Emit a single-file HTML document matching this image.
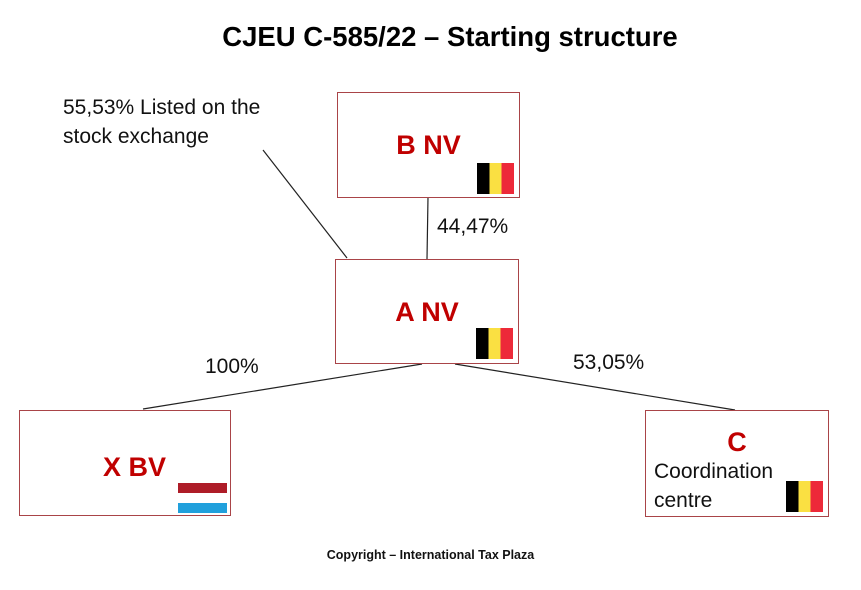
<!DOCTYPE html>
<html><head><style>
body{margin:0;width:861px;height:590px;background:#fff;position:relative;font-family:"Liberation Sans",sans-serif;overflow:hidden}
.t{position:absolute;white-space:nowrap}
.box{position:absolute;border:1.3px solid #a94448;background:#fff;box-sizing:border-box}
.lbl{position:absolute;color:#c00000;font-weight:bold;font-size:27px;text-align:center;width:100%}
.be{position:absolute;width:37px;height:31px;background:linear-gradient(90deg,#000 0 33.3%,#fae042 33.3% 66.6%,#ed2939 66.6%)}
</style></head><body>
<div class="t" style="left:0;width:900px;text-align:center;top:21px;font-size:27.5px;font-weight:bold;color:#000">CJEU C-585/22 – Starting structure</div>
<svg width="861" height="590" style="position:absolute;left:0;top:0">
<g stroke="#222" stroke-width="1.2">
<line x1="263" y1="150" x2="347" y2="258"/>
<line x1="428" y1="197" x2="427" y2="259"/>
<line x1="422" y1="364" x2="143" y2="409"/>
<line x1="455" y1="364" x2="735" y2="410"/>
</g></svg>
<div class="t" style="left:63px;top:93px;font-size:21px;line-height:29px;color:#111">55,53% Listed on the<br>stock exchange</div>
<div class="box" style="left:337px;top:92px;width:183px;height:106px"><div class="lbl" style="top:37px">B NV</div><div class="be" style="left:139px;top:70px"></div></div>
<div class="t" style="left:437px;top:215px;font-size:21px;color:#111">44,47%</div>
<div class="box" style="left:335px;top:259px;width:184px;height:105px"><div class="lbl" style="top:37px">A NV</div><div class="be" style="left:140px;top:68px"></div></div>
<div class="t" style="left:205px;top:355px;font-size:21px;color:#111">100%</div>
<div class="t" style="left:573px;top:351px;font-size:21px;color:#111">53,05%</div>
<div class="box" style="left:19px;top:410px;width:212px;height:106px"><div class="lbl" style="top:41px;width:auto;left:83px">X BV</div>
<div style="position:absolute;left:158px;top:72px;width:49px;height:30px;background:linear-gradient(#ae1c28 0 33.3%,#fff 33.3% 66.6%,#21a0dc 66.6%)"></div></div>
<div class="box" style="left:645px;top:410px;width:184px;height:107px"><div class="lbl" style="top:16px">C</div>
<div class="t" style="left:8px;top:46px;font-size:21px;line-height:29px;color:#111">Coordination<br>centre</div>
<div class="be" style="left:140px;top:70px"></div></div>
<div class="t" style="left:0;width:861px;text-align:center;top:548px;font-size:12.5px;font-weight:bold;color:#111">Copyright – International Tax Plaza</div>
</body></html>
